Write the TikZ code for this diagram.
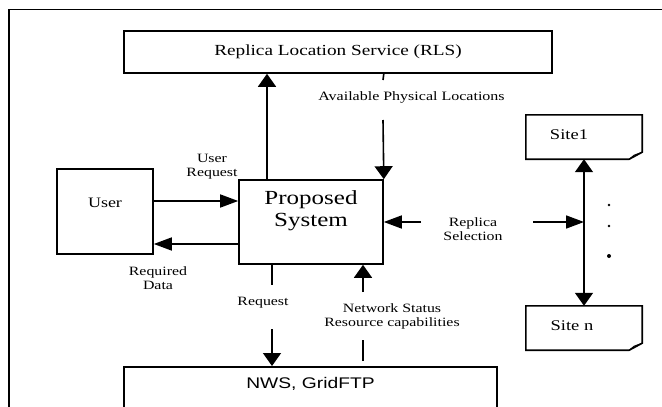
\documentclass[tikz,border=0pt]{standalone}
\usepackage{fontspec}
\setmainfont{Liberation Serif}[FakeStretch=1.25]
\setsansfont{Liberation Sans}[FakeStretch=1.25]
\usetikzlibrary{positioning,arrows.meta,calc}
\tikzset{
  frame/.style={draw, line width=1.6pt},
  box/.style={draw, line width=1.6pt, inner sep=0pt},
  lbl/.style={font=\fontsize{12.7}{14}\selectfont, align=center, inner sep=0pt},
  link/.style={line width=1.6pt},
  vtip/.style={-{Triangle[length=13pt,width=18pt]}},
  htip/.style={-{Triangle[length=18pt,width=13pt]}},
}
\begin{document}
\begin{tikzpicture}[x=1pt,y=-1pt]
\path[use as bounding box] (0,0) rectangle (662,407);
\clip (0,0) rectangle (662,407);
\draw[frame] (9,9.5) rectangle (700,440);

% boxes
\node[box, minimum width=428pt, minimum height=42pt,
  font=\fontsize{15.4}{17}\selectfont] (rls) at (338,52) {Replica Location Service (RLS)};
\node[box, minimum width=96pt, minimum height=85pt,
  label={[font=\fontsize{14.4}{16}\selectfont, yshift=8.5pt]center:User}] (user) at (105,211.5) {};
\node[box, minimum width=144pt, minimum height=84pt,
  label={[font=\fontsize{20}{22}\selectfont, align=center, yshift=11pt]center:Proposed\\System}] (sys) at (311,222) {};
\node[minimum width=116pt, minimum height=44pt, inner sep=0pt,
  label={[font=\fontsize{14.8}{16}\selectfont, xshift=-15pt, yshift=2pt]center:Site1}] (site1) at (584,137) {};
\node[minimum width=116pt, minimum height=44pt, inner sep=0pt,
  label={[font=\fontsize{14.8}{16}\selectfont, xshift=-12pt, yshift=2pt]center:Site n}] (siten) at (584,328) {};
\node[box, anchor=north, minimum width=373pt, minimum height=46pt,
  label={[font=\sffamily\fontsize{15.4}{17}\selectfont, yshift=6pt]center:NWS, GridFTP}] (nws) at (310.5,366) {};

% sites with turned corner
\foreach \s in {site1,siten} {
  \draw[link, line join=miter] ([xshift=-13pt]\s.south east) -- (\s.south west) -- (\s.north west)
    -- (\s.north east) -- ([yshift=7pt]\s.south east) -- cycle;
  \draw[line width=1pt] ([xshift=-13pt]\s.south east) -- ([xshift=-8pt,yshift=4pt]\s.south east)
    -- ([yshift=7pt]\s.south east);
}

% labels
\node[lbl, font=\fontsize{12.8}{14}\selectfont] (apl) at (411.5,97) {Available Physical Locations};
\node[lbl] (ureq) at (212,167) {User\\Request};
\node[lbl] (rdata) at (158,278) {Required\\Data};
\node[lbl] (rsel) at (473,229) {Replica\\Selection};
\node[lbl] (req) at (263,303) {Request};
\node[lbl] (nstat) at (392,316) {Network Status\\Resource capabilities};

% free ends
\coordinate (aplA) at (383,80);
\coordinate (aplB) at (383,120);
\coordinate (rsL) at (421,222);
\coordinate (rsR) at (533,222);
\coordinate (rqA) at (272,285);
\coordinate (rqB) at (272,329);
\coordinate (nsA) at (363,361);
\coordinate (nsB) at (363,340);
\coordinate (nsC) at (363,292);

% connectors
\draw[link, vtip] ([xshift=-44pt]sys.north) -- ([xshift=-44pt]sys.north |- rls.south);
\draw[link] (rls.south -| sys.north east) -- (aplA);
\draw[link, vtip] (aplB) -- (sys.north east);
\draw[link, htip] ([yshift=10.5pt]user.east) -- ([yshift=10.5pt]user.east -| sys.west);
\draw[link, htip] ([yshift=-32.5pt]user.east -| sys.west) -- ([yshift=-32.5pt]user.east);
\draw[link, htip] (rsL) -- (sys.east);
\draw[link, htip] (rsR) -- (rsR -| site1.south);
\draw[link, {Triangle[length=13pt,width=18pt]}-{Triangle[length=13pt,width=18pt]}] (site1.south) -- (siten.north);
\draw[link] (sys.south -| rqA) -- (rqA);
\draw[link, vtip] (rqB) -- (rqB |- nws.north);
\draw[link] (nsA) -- (nsB);
\draw[link, vtip] (nsC) -- (nsC |- sys.south);

% dots
\foreach \y/\r in {205/1.4,226/1.4,256/2}
  \fill (609,\y) circle (\r pt);
\end{tikzpicture}
\end{document}
